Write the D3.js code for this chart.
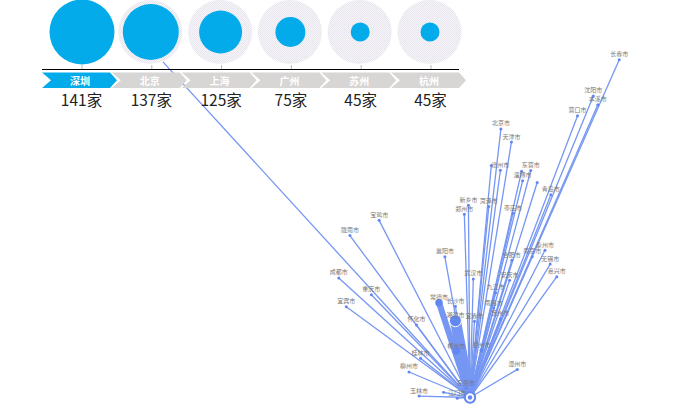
<!DOCTYPE html>
<html><head><meta charset="utf-8">
<script src="https://cdn.jsdelivr.net/npm/d3@7/dist/d3.min.js"></script>
<style>html,body{margin:0;padding:0;background:#fff}svg{display:block}text{font-family:"Noto Sans CJK SC","Noto Sans",sans-serif}</style>
</head><body><svg id="c" width="680" height="408"></svg>
<script>
const topCities=["深圳","北京","上海","广州","苏州","杭州"];
const topCounts=[141,137,125,75,45,45];
const origin=[114.05,22.55];
const cityNames=["长春市","沈阳市","本溪市","营口市","北京市","天津市","德州市","衡水市","东营市","滨州市","淄博市","潍坊市","青岛市","枣庄市","新乡市","郑州市","菏泽市","襄阳市","武汉市","常德市","长沙市","湘潭市","宜春市","九江市","南昌市","抚州市","合肥市","安庆市","南京市","泰州市","无锡市","嘉兴市","宝鸡市","陇南市","成都市","宜宾市","重庆市","怀化市","桂林市","柳州市","玉林市","郴州市","赣州市","漳州市","东莞市","江门市","云浮市","西部"];
const cityLon=[125.4,123.43,123.77,122.23,116.4,117.2,116.36,115.67,118.67,117.97,118.05,119.16,120.2,117.32,113.93,113.62,115.48,112.14,114.3,111.69,112.94,112.94,114.39,116.0,115.86,116.36,117.23,117.06,118.78,119.75,120.15,120.65,107.14,104.92,104.07,104.64,106.55,109.98,110.29,109.41,110.18,113.01,114.93,117.65,113.75,113.08,112.04,90.7];
const cityLat=[43.82,41.8,41.3,40.67,39.9,39.13,37.44,37.74,37.43,37.38,36.81,36.7,35.95,34.81,35.3,34.75,35.23,32.04,30.6,29.04,28.8,27.83,27.8,29.7,28.68,27.95,31.82,30.52,32.04,32.46,31.57,30.75,34.36,33.4,30.67,28.77,29.56,27.55,25.27,24.33,22.65,25.77,25.83,24.51,23.2,22.5,22.91,43.7];
const cityWeight=[1,1,1,1,1,1,1,1,1,1,1,1,1,1,1,1,1,1,1,5,1,9,1,1,1,1,1,1,1,1,1,1,1,1,1,1,1,1,1,1,1,5,2,1,1,1,1,1];
const hiddenLabels=["衡水市","滨州市","潍坊市","云浮市","西部"];
const hiddenDots=["西部"];

const svg=d3.select("#c");
const lineColor="#7596f3", dotColor="#6387f0";
const defs=svg.append("defs");
const pat=defs.append("pattern").attr("id","dither").attr("patternUnits","userSpaceOnUse").attr("width",2).attr("height",2);
pat.append("rect").attr("width",2).attr("height",2).attr("fill","#f6f5f8");
pat.append("rect").attr("width",1).attr("height",1).attr("fill","#e6e3ec");
pat.append("rect").attr("x",1).attr("y",1).attr("width",1).attr("height",1).attr("fill","#ebe7ea");

const projection=d3.geoMercator().scale(753.4).center(origin).translate([470,397.5]);
const w=d3.scaleLinear().domain([1,9]).range([1.3,11]);
const dotR=d3.scaleLinear().domain([1,9]).range([1.5,6]);
const rows=cityNames.map((n,i)=>({name:n,p:projection([cityLon[i],cityLat[i]]),w:cityWeight[i]}));
const o=projection(origin);
const map=svg.append("g");
map.selectAll("line").data(rows).join("line")
  .attr("x1",o[0]).attr("y1",o[1]).attr("x2",d=>d.p[0]).attr("y2",d=>d.p[1])
  .attr("stroke",lineColor).attr("stroke-width",d=>w(d.w));
map.selectAll("circle.d").data(rows.filter(d=>!hiddenDots.includes(d.name))).join("circle").attr("class","d")
  .attr("cx",d=>d.p[0]).attr("cy",d=>d.p[1]).attr("r",d=>dotR(d.w))
  .attr("fill",dotColor).attr("stroke",d=>d.w>=9?"#fff":"none").attr("stroke-width",1);
map.selectAll("text").data(rows.filter(d=>!hiddenLabels.includes(d.name))).join("text")
  .attr("x",d=>d.p[0]).attr("y",d=>d.p[1]-3.5).attr("text-anchor","middle")
  .attr("font-size",6).attr("fill","#777").text(d=>d.name);
map.append("circle").attr("cx",o[0]).attr("cy",o[1]).attr("r",5.2).attr("fill","#fff").attr("stroke",dotColor).attr("stroke-width",2);
map.append("circle").attr("cx",o[0]).attr("cy",o[1]).attr("r",2.2).attr("fill",dotColor);

const x=d3.scalePoint().domain(topCities).range([82,431]);
const r=d3.scaleLinear().domain([45,75,125,137,141]).range([9.5,15,21.5,28,32.5]);
const bubbleY=32, header=svg.append("g");
header.selectAll("circle.bg").data(topCities).join("circle").attr("class","bg")
  .attr("cx",d=>x(d)-(d==="深圳"?0:1.5)).attr("cy",bubbleY).attr("r",32).attr("fill","url(#dither)");
header.selectAll("circle.fg").data(topCities).join("circle").attr("class","fg")
  .attr("cx",d=>x(d)-(d==="深圳"?0:1)).attr("cy",bubbleY).attr("r",(d,i)=>r(topCounts[i])).attr("fill","#04abeb");
header.selectAll("line.t").data(topCities).join("line").attr("class","t")
  .attr("x1",d=>x(d)).attr("x2",d=>x(d)).attr("y1",65).attr("y2",69).attr("stroke","#999").attr("stroke-width",.7);
header.append("line").attr("x1",42).attr("x2",459).attr("y1",69.5).attr("y2",69.5).attr("stroke","#000").attr("stroke-width",1);
const chev=cx=>{const l=cx-40,h=72.5,b=88,m=(h+b)/2;return `M${l},${h}L${l+68},${h}L${l+75},${m}L${l+68},${b}L${l},${b}L${l+9},${m}Z`;};
header.selectAll("path").data(topCities).join("path").attr("d",d=>chev(x(d)))
  .attr("fill",(d,i)=>i===0?"#04abeb":"#d8d5d5");
header.selectAll("text.n").data(topCities).join("text").attr("class","n")
  .attr("x",d=>x(d)-2).attr("y",84.5).attr("text-anchor","middle").attr("font-size",10).attr("font-weight",700).attr("fill","#fff").text(d=>d);
header.selectAll("text.v").data(topCities).join("text").attr("class","v")
  .attr("x",d=>x(d)-.5).attr("y",105.5).attr("text-anchor","middle").attr("font-size",15.5).attr("fill","#222").text((d,i)=>topCounts[i]+"家");
</script></body></html>
